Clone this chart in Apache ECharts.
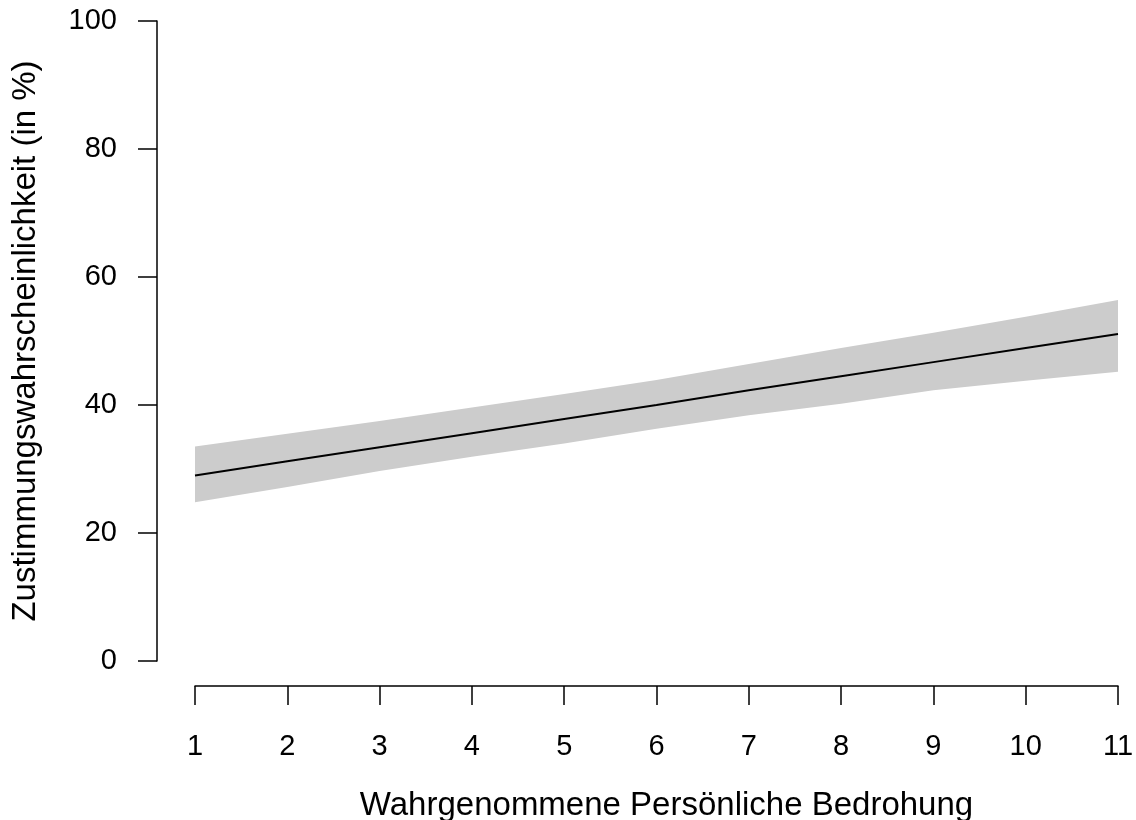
<!DOCTYPE html>
<html>
<head>
<meta charset="utf-8">
<script src="https://cdn.jsdelivr.net/npm/echarts@6/dist/echarts.min.js"></script>
<style>
html,body{margin:0;padding:0;background:#fff;}
#c{width:1136px;height:820px;}
</style>
</head>
<body>
<div id="c"></div>
<script>
var threat = [1, 2, 3, 4, 5, 6, 7, 8, 9, 10, 11];
var prob   = [29.0, 31.2, 33.4, 35.6, 37.8, 40.0, 42.3, 44.5, 46.7, 48.9, 51.1];
var upper  = [33.5, 35.5, 37.5, 39.6, 41.7, 43.9, 46.4, 48.9, 51.3, 53.8, 56.4];
var lower  = [24.8, 27.2, 29.7, 31.9, 34.0, 36.3, 38.4, 40.2, 42.3, 43.8, 45.2];
var yTicks = [0, 20, 40, 60, 80, 100];
var xTitle = 'Wahrgenommene Persönliche Bedrohung';
var yTitle = 'Zustimmungswahrscheinlichkeit (in %)';

var bandWidth = upper.map(function (u, i) { return +(u - lower[i]).toFixed(2); });

var font = 'Liberation Sans, Arial, Helvetica, sans-serif';
var chart = echarts.init(document.getElementById('c'), null, {renderer: 'canvas'});
chart.setOption({
  animation: false,
  backgroundColor: '#ffffff',
  grid: {left: 195, right: 18, top: 21, bottom: 159, containLabel: false, outerBoundsMode: 'none'},
  xAxis: {
    type: 'category', data: threat.map(String), boundaryGap: false, offset: 25,
    name: xTitle, nameLocation: 'middle', nameGap: 103,
    nameTextStyle: {fontFamily: font, fontSize: 33, color: '#000', padding: [0, 0, 0, 20]},
    axisLine: {show: true, onZero: false, lineStyle: {color: '#000', width: 1.5}},
    axisTick: {show: true, length: 19, alignWithLabel: true, lineStyle: {color: '#000', width: 1.5}},
    axisLabel: {fontFamily: font, fontSize: 29, color: '#000', margin: 46, interval: 0},
    splitLine: {show: false}
  },
  yAxis: {
    type: 'value', min: 0, max: 100, interval: 20, offset: 38,
    name: yTitle, nameLocation: 'middle', nameGap: 115, nameRotate: 90,
    nameTextStyle: {fontFamily: font, fontSize: 33, color: '#000'},
    axisLine: {show: true, onZero: false, lineStyle: {color: '#000', width: 1.5}},
    axisTick: {show: true, length: 19, lineStyle: {color: '#000', width: 1.5}},
    axisLabel: {fontFamily: font, fontSize: 29, color: '#000', margin: 40,
      formatter: function (v) { return yTicks.indexOf(v) >= 0 ? String(v) : ''; }},
    splitLine: {show: false}
  },
  series: [
    {type: 'line', data: lower, stack: 'band', symbol: 'none', silent: true,
     lineStyle: {opacity: 0}, areaStyle: {opacity: 0}},
    {type: 'line', data: bandWidth, stack: 'band', symbol: 'none', silent: true,
     lineStyle: {opacity: 0}, areaStyle: {color: '#cccccc', opacity: 1}},
    {type: 'line', data: prob, symbol: 'none', silent: true,
     lineStyle: {color: '#000', width: 2}}
  ]
});
</script>
</body>
</html>
